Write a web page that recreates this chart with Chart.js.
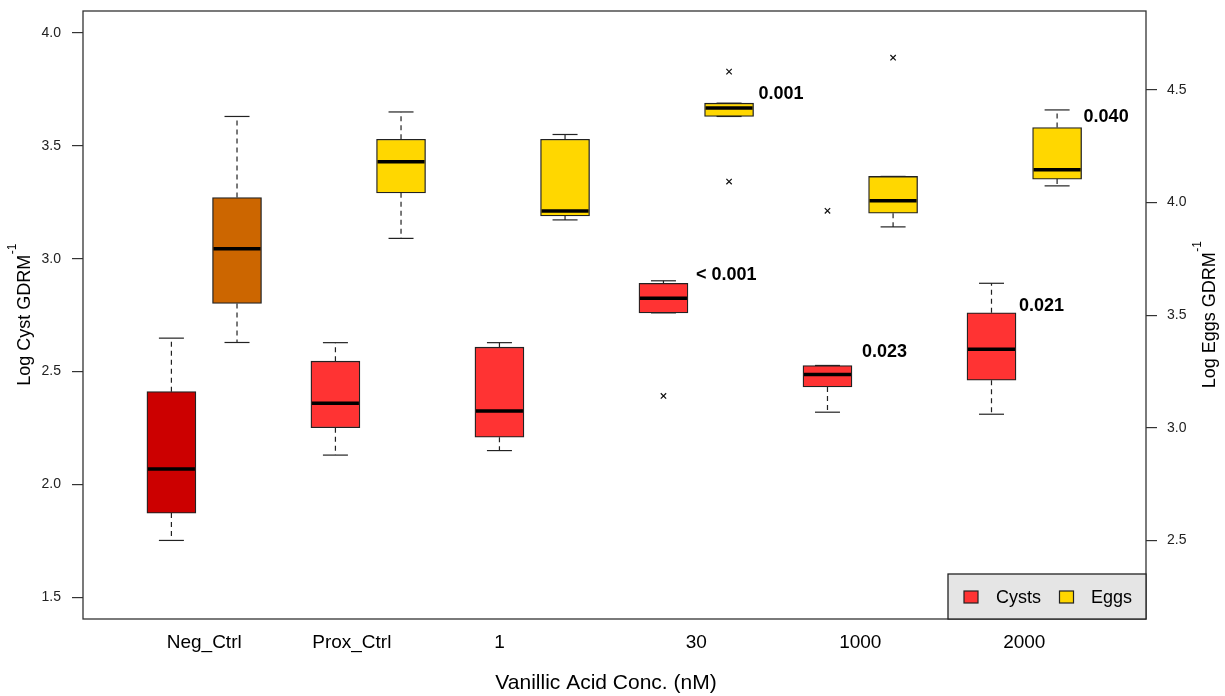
<!DOCTYPE html>
<html>
<head>
<meta charset="utf-8">
<script src="https://cdn.jsdelivr.net/npm/chart.js@4.4.0/dist/chart.umd.min.js"></script>
<style>
  html, body { margin: 0; padding: 0; background: #fff; }
  #wrap { width: 1225px; height: 696px; }
</style>
</head>
<body>
<div id="wrap"><canvas id="boxChart" width="1225" height="696"></canvas></div>
<script>
// Vanillic acid concentrations (x axis)
const categories = ['Neg_Ctrl', 'Prox_Ctrl', '1', '30', '1000', '2000'];
const categoryTickAt = [0, 0.9, 1.8, 3, 4, 5];

// Log cysts GDRM^-1 (left axis): whisker ends, quartiles, median
const cystLow    = [1.752, 2.130, 2.150, 2.760, 2.320, 2.311];
const cystQ1     = [1.873, 2.251, 2.209, 2.760, 2.432, 2.462];
const cystMedian = [2.068, 2.360, 2.325, 2.825, 2.487, 2.599];
const cystQ3     = [2.411, 2.546, 2.608, 2.891, 2.527, 2.760];
const cystHigh   = [2.648, 2.628, 2.628, 2.902, 2.527, 2.891];
const cystOutliers = [[], [], [], [2.392], [3.212], []];

// Log eggs GDRM^-1 (right axis)
const eggLow    = [3.379, 3.841, 3.923, 4.382, 3.892, 4.074];
const eggQ1     = [3.552, 4.043, 3.941, 4.382, 3.953, 4.104];
const eggMedian = [3.795, 4.181, 3.962, 4.420, 4.008, 4.145];
const eggQ3     = [4.022, 4.281, 4.281, 4.441, 4.116, 4.333];
const eggHigh   = [4.382, 4.402, 4.302, 4.441, 4.116, 4.411];
const eggOutliers = [[], [], [], [4.581, 4.093], [4.643], []];

// p-values against the negative control
const cystP = [null, null, null, '< 0.001', '0.023', '0.021'];
const eggP  = [null, null, null, '0.001', null, '0.040'];

const cystTicks = [1.5, 2.0, 2.5, 3.0, 3.5, 4.0];
const eggTicks  = [2.5, 3.0, 3.5, 4.0, 4.5];

// colours: first group is the negative control
const cystColors = ['#CC0000', '#FF3333', '#FF3333', '#FF3333', '#FF3333', '#FF3333'];
const eggColors  = ['#CC6600', '#FFD700', '#FFD700', '#FFD700', '#FFD700', '#FFD700'];

const FONT = '"Liberation Sans", Arial, Helvetica, sans-serif';
const SHIFT = 0.2;      // box offset from group centre (x units)
const BOX_W = 49;       // px
const CAP_W = 25;       // px
const INK = '#222';

// label offsets from the box's right edge / upper hinge (px)
const pOffsets = {
  cyst: { 3: [8, -9.6], 4: [10, -15], 5: [3, -8.8] },
  egg:  { 3: [5, -11], 5: [2, -12.4] }
};

Chart.defaults.font.family = FONT;

function outlierPoints(list, shift) {
  const pts = [];
  list.forEach((vals, i) => vals.forEach(v => pts.push({ x: i + shift, y: v })));
  return pts;
}

function line(ctx, x1, y1, x2, y2) {
  ctx.beginPath();
  ctx.moveTo(x1, y1);
  ctx.lineTo(x2, y2);
  ctx.stroke();
}

function rotatedTitle(ctx, base, sup, cx, cy) {
  ctx.save();
  ctx.translate(cx, cy);
  ctx.rotate(-Math.PI / 2);
  ctx.font = '18px ' + FONT;
  const wb = ctx.measureText(base).width;
  ctx.font = '12px ' + FONT;
  const ws = ctx.measureText(sup).width;
  const x0 = -(wb + ws) / 2;
  ctx.fillStyle = '#000';
  ctx.textAlign = 'left';
  ctx.textBaseline = 'alphabetic';
  ctx.font = '18px ' + FONT;
  ctx.fillText(base, x0, 6.5);
  ctx.font = '12px ' + FONT;
  ctx.fillText(sup, x0 + wb + 0.5, -7);
  ctx.restore();
}

// keep the plot box fixed: no extra room for half tick labels
function fixedWidth(w) {
  return s => { s.width = w; s.paddingTop = 0; s.paddingBottom = 0; };
}

// whiskers, medians, p-values, frame, legend and axis titles
const boxExtras = {
  id: 'boxExtras',
  afterDatasetsDraw(chart) {
    const { ctx, scales } = chart;
    const xs = scales.x;
    const groups = [
      { key: 'cyst', shift: -SHIFT, ys: scales.y, low: cystLow, q1: cystQ1, med: cystMedian, q3: cystQ3, high: cystHigh, p: cystP },
      { key: 'egg', shift: SHIFT, ys: scales.y2, low: eggLow, q1: eggQ1, med: eggMedian, q3: eggQ3, high: eggHigh, p: eggP }
    ];
    ctx.save();
    groups.forEach(g => {
      categories.forEach((c, i) => {
        const cx = xs.getPixelForValue(i + g.shift);
        const yLow = g.ys.getPixelForValue(g.low[i]);
        const yQ1 = g.ys.getPixelForValue(g.q1[i]);
        const yMed = g.ys.getPixelForValue(g.med[i]);
        const yQ3 = g.ys.getPixelForValue(g.q3[i]);
        const yHigh = g.ys.getPixelForValue(g.high[i]);

        ctx.strokeStyle = INK;
        ctx.lineWidth = 1.2;
        ctx.setLineDash([5, 4]);
        if (yHigh < yQ3) line(ctx, cx, yQ3, cx, yHigh);
        if (yLow > yQ1) line(ctx, cx, yQ1, cx, yLow);
        ctx.setLineDash([]);
        line(ctx, cx - CAP_W / 2, yHigh, cx + CAP_W / 2, yHigh);
        line(ctx, cx - CAP_W / 2, yLow, cx + CAP_W / 2, yLow);

        ctx.strokeStyle = '#000';
        ctx.lineWidth = 3.5;
        line(ctx, cx - BOX_W / 2 + 1, yMed, cx + BOX_W / 2 - 1, yMed);

        if (g.p[i]) {
          const off = pOffsets[g.key][i];
          ctx.font = 'bold 18px ' + FONT;
          ctx.fillStyle = '#000';
          ctx.textAlign = 'left';
          ctx.textBaseline = 'alphabetic';
          ctx.fillText(g.p[i], cx + BOX_W / 2 + off[0], yQ3 + off[1] + 6.5);
        }
      });
    });
    ctx.restore();
  },
  afterDraw(chart) {
    const { ctx, chartArea: a } = chart;
    ctx.save();
    ctx.strokeStyle = '#333';
    ctx.lineWidth = 1.3;
    ctx.strokeRect(a.left, a.top, a.right - a.left, a.bottom - a.top);

    // legend, bottom-right inside the plot
    const lw = 198, lh = 45;
    const lx = a.right - lw, ly = a.bottom - lh;
    ctx.fillStyle = '#E5E5E5';
    ctx.fillRect(lx, ly, lw, lh);
    ctx.strokeStyle = INK;
    ctx.strokeRect(lx, ly, lw, lh);
    const items = [['Cysts', cystColors[1], 16, 48], ['Eggs', eggColors[1], 111.5, 143]];
    ctx.font = '18px ' + FONT;
    ctx.textAlign = 'left';
    ctx.textBaseline = 'middle';
    items.forEach(([label, col, sx, tx]) => {
      ctx.fillStyle = col;
      ctx.fillRect(lx + sx, ly + 17, 14, 12);
      ctx.lineWidth = 1.2;
      ctx.strokeRect(lx + sx, ly + 17, 14, 12);
      ctx.fillStyle = '#000';
      ctx.fillText(label, lx + tx, ly + 24);
    });

    // x title
    ctx.font = '21px ' + FONT;
    ctx.textAlign = 'center';
    ctx.textBaseline = 'middle';
    ctx.fillText('Vanillic Acid Conc. (nM)', 606, 683);
    ctx.restore();

    const cy = (a.top + a.bottom) / 2;
    rotatedTitle(ctx, 'Log Cyst GDRM', '-1', 23, cy);
    rotatedTitle(ctx, 'Log Eggs GDRM', '-1', 1208, cy);
  }
};

const ctx = document.getElementById('boxChart').getContext('2d');
new Chart(ctx, {
  type: 'bar',
  data: {
    datasets: [
      {
        label: 'Cysts',
        data: categories.map((c, i) => ({ x: i - SHIFT, y: [cystQ1[i], cystQ3[i]] })),
        backgroundColor: cystColors,
        borderColor: INK,
        borderWidth: 1.3,
        borderSkipped: false,
        barThickness: BOX_W,
        maxBarThickness: BOX_W,
        grouped: false,
        yAxisID: 'y'
      },
      {
        label: 'Eggs',
        data: categories.map((c, i) => ({ x: i + SHIFT, y: [eggQ1[i], eggQ3[i]] })),
        backgroundColor: eggColors,
        borderColor: INK,
        borderWidth: 1.3,
        borderSkipped: false,
        barThickness: BOX_W,
        maxBarThickness: BOX_W,
        grouped: false,
        yAxisID: 'y2'
      },
      {
        type: 'scatter',
        label: 'Cyst outliers',
        data: outlierPoints(cystOutliers, -SHIFT),
        pointStyle: 'crossRot',
        radius: 3.8,
        borderColor: '#111',
        borderWidth: 1.2,
        yAxisID: 'y'
      },
      {
        type: 'scatter',
        label: 'Egg outliers',
        data: outlierPoints(eggOutliers, SHIFT),
        pointStyle: 'crossRot',
        radius: 3.8,
        borderColor: '#111',
        borderWidth: 1.2,
        yAxisID: 'y2'
      }
    ]
  },
  options: {
    responsive: false,
    animation: false,
    events: [],
    layout: { padding: { top: 11, left: 0, right: 0, bottom: 0 } },
    plugins: {
      legend: { display: false },
      tooltip: { enabled: false }
    },
    scales: {
      x: {
        type: 'linear',
        min: -0.739,
        max: 5.742,
        offset: false,
        afterBuildTicks: s => { s.ticks = categoryTickAt.map(v => ({ value: v })); },
        afterFit: s => { s.height = 77; s.paddingLeft = 0; s.paddingRight = 0; },
        ticks: {
          autoSkip: false,
          maxRotation: 0,
          padding: 12,
          color: '#000',
          font: { size: 19 },
          callback: (v, i) => categories[i]
        },
        grid: { display: false, drawTicks: false },
        border: { display: false },
        title: { display: false }
      },
      y: {
        position: 'left',
        min: 1.404,
        max: 4.097,
        beginAtZero: false,
        afterBuildTicks: s => { s.ticks = cystTicks.map(v => ({ value: v })); },
        afterFit: fixedWidth(83),
        ticks: { color: '#222', padding: 11, font: { size: 14 }, callback: v => v.toFixed(1) },
        grid: { drawOnChartArea: false, tickLength: 11, color: '#333', lineWidth: 1.2 },
        border: { display: false }
      },
      y2: {
        position: 'right',
        min: 2.152,
        max: 4.850,
        beginAtZero: false,
        afterBuildTicks: s => { s.ticks = eggTicks.map(v => ({ value: v })); },
        afterFit: fixedWidth(79),
        ticks: { color: '#222', padding: 10, font: { size: 14 }, callback: v => v.toFixed(1) },
        grid: { drawOnChartArea: false, tickLength: 11, color: '#333', lineWidth: 1.2 },
        border: { display: false }
      }
    }
  },
  plugins: [boxExtras]
});
</script>
</body>
</html>
